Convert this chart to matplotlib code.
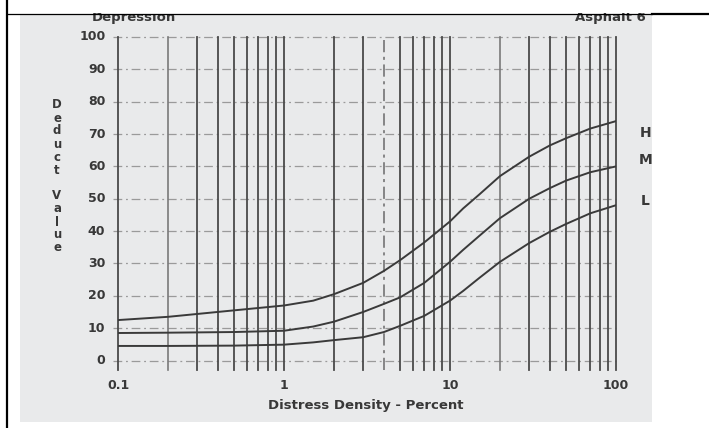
import matplotlib
matplotlib.use("Agg")
import matplotlib.pyplot as plt
from matplotlib.patches import Rectangle
from matplotlib.lines import Line2D

# ---- data ----
density = [0.1, 0.2, 0.5, 1, 1.5, 2, 3, 4, 5, 7, 10, 12, 15, 20, 30, 40, 50, 70, 100]
deduct_H = [12.5, 13.5, 15.5, 17, 18.5, 20.5, 24, 27.7, 31, 36.5, 43, 47, 51.3, 57, 63, 66.5, 68.7, 71.7, 74]
deduct_M = [8.5, 8.6, 8.8, 9.2, 10.5, 12, 15, 17.5, 19.5, 24, 30.5, 34.2, 38.5, 44, 50, 53.3, 55.6, 58.2, 60]
deduct_L = [4.5, 4.5, 4.6, 4.9, 5.6, 6.3, 7.2, 8.8, 10.7, 13.8, 18.5, 21.5, 25.5, 30.5, 36.3, 39.8, 42.2, 45.5, 48]
severity_labels = ["H", "M", "L"]
x_ticks = [0.1, 1, 10, 100]
x_tick_labels = ["0.1", "1", "10", "100"]
y_ticks = [0, 10, 20, 30, 40, 50, 60, 70, 80, 90, 100]
grid_x = [m * d for d in (0.1, 1, 10) for m in range(1, 10)] + [100]

W, H = 709, 428
fig = plt.figure(figsize=(W / 100, H / 100), dpi=100)
fig.patch.set_facecolor("white")

def fx(px):
    return px / W

def fy(py):
    return 1 - py / H

FONT = "DejaVu Sans"
TXT = "#383838"

# scanned-page background
fig.patches.append(Rectangle((fx(20), fy(422)), fx(652) - fx(20), fy(14) - fy(422),
                             transform=fig.transFigure, facecolor="#e9eaeb",
                             edgecolor="none", zorder=-1))

ax = fig.add_axes([fx(118), fy(360.5), fx(616) - fx(118), fy(37) - fy(360.5)])
ax.set_zorder(2)
ax.set_facecolor("none")
ax.set_xscale("log")
ax.set_xlim(0.1, 100)
ax.set_ylim(0, 100)
for s in ax.spines.values():
    s.set_visible(False)

# horizontal grid
for yv in y_ticks:
    ax.plot([0.093, 100], [yv, yv], color="#9a9a9a", lw=0.9,
            linestyle=(0, (7, 3, 1.5, 3)), clip_on=False, zorder=1)

# vertical grid
for xv in grid_x:
    if abs(xv - 4) < 1e-9:
        ax.plot([xv, xv], [-3, 100], color="#6a6a6a", lw=1.1,
                linestyle=(0, (8, 3, 2, 3)), clip_on=False, zorder=2)
    elif abs(xv - 0.2) < 1e-9 or abs(xv - 20) < 1e-9:
        ax.plot([xv, xv], [-3, 100], color="#7a7a7a", lw=1.2, clip_on=False, zorder=2)
    else:
        ax.plot([xv, xv], [-3, 100], color="#4a4a4a", lw=1.3, clip_on=False, zorder=2)

# curves
for vals in (deduct_H, deduct_M, deduct_L):
    ax.plot(density, vals, color="#3a3a3a", lw=1.4, zorder=3, solid_joinstyle="round")

for lab, vals, dy in zip(severity_labels, (deduct_H, deduct_M, deduct_L), (-3.7, 2.0, 1.3)):
    ax.text(150, vals[-1] + dy, lab, fontsize=10, fontweight="bold", color=TXT,
            ha="center", va="center", family=FONT, clip_on=False)

ax.set_xticks([])
ax.set_yticks([])
ax.minorticks_off()

tk = dict(fontsize=9, fontweight="bold", color=TXT, family=FONT)
for xv, lab in zip(x_ticks, x_tick_labels):
    ax.text(xv, -7.8, lab, ha="center", va="center", clip_on=False, **tk)
for yv in y_ticks:
    ax.text(0.084, yv, str(yv), ha="right", va="center", clip_on=False, **tk)

fig.text(fx(366), fy(405), "Distress Density - Percent", ha="center", va="center",
         fontsize=9.5, fontweight="bold", color=TXT, family=FONT)

# stacked y label
ylab = "Deduct Value"
ypos = 105
for ch in ylab:
    if ch != " ":
        fig.text(fx(57), fy(ypos), ch, ha="center", va="center", fontsize=8.5,
                 fontweight="bold", color=TXT, family=FONT)
    ypos += 13

fig.text(fx(92), fy(17), "Depression", ha="left", va="center", fontsize=9.5,
         fontweight="bold", color=TXT, family=FONT)
fig.text(fx(646), fy(17), "Asphalt 6", ha="right", va="center", fontsize=9.5,
         fontweight="bold", color=TXT, family=FONT)

# white top strip and borders (table cell)
fig.patches.append(Rectangle((0, fy(13)), 1, 1 - fy(13), transform=fig.transFigure,
                             facecolor="white", edgecolor="none", zorder=5))
fig.lines.append(Line2D([fx(6.5), fx(652)], [fy(13.5), fy(13.5)], transform=fig.transFigure,
                        color="black", lw=0.9, zorder=6))
fig.lines.append(Line2D([fx(652), 1], [fy(13.5), fy(13.5)], transform=fig.transFigure,
                        color="black", lw=1.6, zorder=6))
fig.lines.append(Line2D([fx(6.5), fx(6.5)], [0, 1], transform=fig.transFigure,
                        color="black", lw=1.6, zorder=6))

fig.savefig("out.png", dpi=100)
